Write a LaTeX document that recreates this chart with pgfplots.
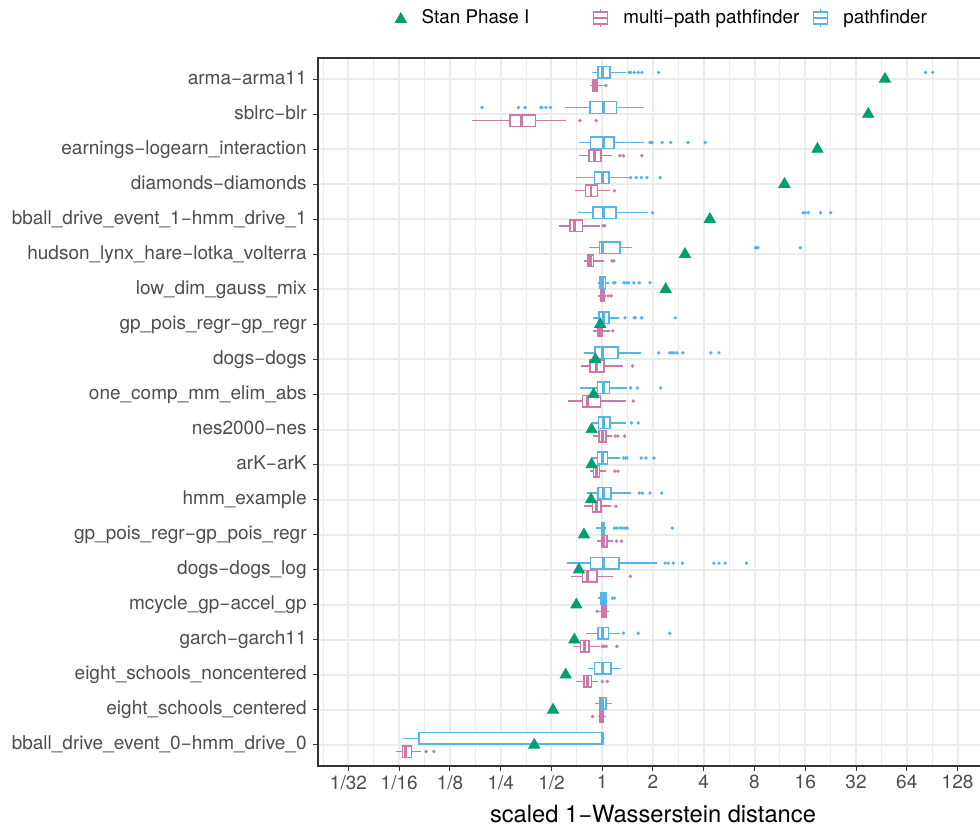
\documentclass[border=0pt]{standalone}
\usepackage{fontspec}
\setmainfont{TeX Gyre Heros}
\usepackage{pgfplots}
\pgfplotsset{compat=1.18}
\usepgfplotslibrary{statistics}
\definecolor{pfblue}{HTML}{56B4E9}
\definecolor{mpink}{HTML}{CC79A7}
\definecolor{sgreen}{HTML}{009E73}
\definecolor{grid92}{HTML}{EBEBEB}
\definecolor{g20}{HTML}{333333}
\definecolor{g30}{HTML}{4D4D4D}
\pgfplotsset{
  pf/.style={pfblue, fill=white, line width=0.75pt, boxplot/every median/.style={line width=1.4pt}},
  mp/.style={mpink, fill=white, line width=0.75pt, boxplot/every median/.style={line width=1.4pt}},
}
% draw position, lower whisker, lower quartile, median, upper quartile, upper whisker, style
\newcommand{\bxp}[7]{\addplot[#7, forget plot, boxplot prepared={draw position=#1, lower whisker=#2, lower quartile=#3, median=#4, upper quartile=#5, upper whisker=#6}] coordinates {};}
\begin{document}
\begin{tikzpicture}
\begin{axis}[
  at={(0pt,0pt)}, anchor=south west,
  scale only axis, width=335pt, height=354pt,
  xmin=-5.6, xmax=7.6, ymin=0.4, ymax=20.6,
  boxplot/draw direction=x,
  boxplot/box extend=0.33,
  boxplot/whisker extend=0,
  xtick={-5,-4,...,7},
  xticklabels={1/32,1/16,1/8,1/4,1/2,1,2,4,8,16,32,64,128},
  minor xtick={-5.5,-4.5,...,7.5},
  ytick={1,...,20},
  yticklabels={bball\_drive\_event\_0−hmm\_drive\_0, eight\_schools\_centered, eight\_schools\_noncentered, garch−garch11, mcycle\_gp−accel\_gp, dogs−dogs\_log, gp\_pois\_regr−gp\_pois\_regr, hmm\_example, arK−arK, nes2000−nes, one\_comp\_mm\_elim\_abs, dogs−dogs, gp\_pois\_regr−gp\_regr, low\_dim\_gauss\_mix, hudson\_lynx\_hare−lotka\_volterra, bball\_drive\_event\_1−hmm\_drive\_1, diamonds−diamonds, earnings−logearn\_interaction, sblrc−blr, arma−arma11},
  xmajorgrids, xminorgrids, ymajorgrids,
  major grid style={grid92, line width=1pt},
  minor grid style={grid92, line width=0.55pt},
  axis line style={g20, line width=1pt},
  tick align=outside, tick pos=left,
  major tick length=2.5pt, minor tick length=0pt,
  major tick style={g20, line width=0.5pt},
  xticklabel style={font=\fontsize{9.5}{11}\selectfont, text=g30, inner sep=0pt, yshift=-2pt},
  yticklabel style={font=\fontsize{9.5}{11}\selectfont, text=g30, inner sep=0pt, xshift=-3pt, text height=7pt, text depth=2pt},
  xlabel={scaled 1−Wasserstein distance},
  xlabel style={at={(axis description cs:0.5,0)}, anchor=base, yshift=-28pt, inner sep=0pt, font=\fontsize{11.85}{14}\selectfont, text=black},
  legend columns=3,
  legend cell align=left,
  legend style={at={(0.1142,1.0565)}, anchor=west, draw=none, fill=none, inner sep=0pt,
    font=\fontsize{9.4}{11}\selectfont, nodes={inner sep=0pt},
    /tikz/every odd column/.append style={column sep=7.5pt},
    /tikz/every even column/.append style={column sep=7pt}},
]
% ---------- pathfinder (blue), draw position k+0.1875 ----------
\bxp{20.1875}{-0.20}{-0.08}{0.00}{0.155}{0.46}{pf}
\bxp{19.1875}{-0.73}{-0.24}{0.02}{0.28}{0.82}{pf}
\bxp{18.1875}{-0.46}{-0.23}{0.02}{0.23}{0.83}{pf}
\bxp{17.1875}{-0.52}{-0.155}{0.00}{0.135}{0.52}{pf}
\bxp{16.1875}{-0.48}{-0.18}{0.02}{0.27}{0.90}{pf}
\bxp{15.1875}{-0.26}{-0.056}{0.00}{0.35}{0.59}{pf}
\bxp{14.1875}{-0.08}{-0.04}{0.00}{0.06}{0.13}{pf}
\bxp{13.1875}{-0.19}{-0.06}{0.02}{0.13}{0.33}{pf}
\bxp{12.1875}{-0.36}{-0.14}{0.00}{0.31}{0.77}{pf}
\bxp{11.1875}{-0.44}{-0.095}{0.02}{0.14}{0.49}{pf}
\bxp{10.1875}{-0.21}{-0.076}{0.02}{0.15}{0.46}{pf}
\bxp{9.1875}{-0.23}{-0.095}{0.00}{0.10}{0.35}{pf}
\bxp{8.1875}{-0.31}{-0.08}{0.02}{0.17}{0.56}{pf}
\bxp{7.1875}{-0.13}{-0.016}{0.01}{0.04}{0.08}{pf}
\bxp{6.1875}{-0.69}{-0.23}{0.02}{0.33}{1.08}{pf}
\bxp{5.1875}{-0.08}{-0.02}{0.02}{0.075}{0.09}{pf}
\bxp{4.1875}{-0.32}{-0.08}{0.00}{0.12}{0.35}{pf}
\bxp{3.1875}{-0.28}{-0.15}{0.00}{0.17}{0.365}{pf}
\bxp{2.1875}{-0.14}{-0.04}{0.01}{0.075}{0.20}{pf}
\bxp{1.1875}{-3.92}{-3.61}{0.00}{0.02}{0.06}{pf}
% ---------- multi-path pathfinder (pink), draw position k-0.1875 ----------
\bxp{19.8125}{-0.25}{-0.18}{-0.14}{-0.10}{0.05}{mp}
\bxp{18.8125}{-2.57}{-1.82}{-1.59}{-1.31}{-0.71}{mp}
\bxp{17.8125}{-0.46}{-0.26}{-0.15}{-0.02}{0.20}{mp}
\bxp{16.8125}{-0.54}{-0.325}{-0.22}{-0.095}{0.16}{mp}
\bxp{15.8125}{-0.85}{-0.64}{-0.54}{-0.39}{-0.05}{mp}
\bxp{14.8125}{-0.36}{-0.28}{-0.23}{-0.17}{0.03}{mp}
\bxp{13.8125}{-0.08}{-0.03}{0.00}{0.03}{0.08}{mp}
\bxp{12.8125}{-0.18}{-0.095}{-0.05}{0.00}{0.15}{mp}
\bxp{11.8125}{-0.41}{-0.24}{-0.11}{0.036}{0.40}{mp}
\bxp{10.8125}{-0.67}{-0.385}{-0.29}{-0.03}{0.47}{mp}
\bxp{9.8125}{-0.18}{-0.06}{0.00}{0.07}{0.20}{mp}
\bxp{8.8125}{-0.24}{-0.17}{-0.11}{-0.05}{0.07}{mp}
\bxp{7.8125}{-0.36}{-0.19}{-0.115}{-0.02}{0.18}{mp}
\bxp{6.8125}{-0.095}{0.00}{0.036}{0.095}{0.21}{mp}
\bxp{5.8125}{-0.61}{-0.39}{-0.29}{-0.10}{0.21}{mp}
\bxp{4.8125}{-0.06}{0.00}{0.02}{0.07}{0.135}{mp}
\bxp{3.8125}{-0.575}{-0.43}{-0.345}{-0.26}{-0.036}{mp}
\bxp{2.8125}{-0.52}{-0.36}{-0.29}{-0.21}{-0.076}{mp}
\bxp{1.8125}{-0.08}{-0.05}{-0.02}{0.02}{0.07}{mp}
\bxp{0.8125}{-4.06}{-3.94}{-3.88}{-3.76}{-3.57}{mp}
% ---------- outliers ----------
\addplot[only marks, mark=*, mark size=0.65pt, pfblue, forget plot] coordinates {
 (0.53,20.1875) (0.56,20.1875) (0.63,20.1875) (0.71,20.1875) (0.78,20.1875) (1.11,20.1875) (6.37,20.1875) (6.51,20.1875)
 (-2.37,19.1875) (-1.65,19.1875) (-1.52,19.1875) (-1.21,19.1875) (-1.19,19.1875) (-1.11,19.1875) (-1.02,19.1875)
 (0.94,18.1875) (0.98,18.1875) (1.18,18.1875) (1.35,18.1875) (1.69,18.1875) (2.03,18.1875)
 (0.56,17.1875) (0.67,17.1875) (0.77,17.1875) (0.88,17.1875) (1.14,17.1875)
 (0.99,16.1875) (3.96,16.1875) (4.00,16.1875) (4.06,16.1875) (4.30,16.1875) (4.50,16.1875)
 (3.02,15.1875) (3.05,15.1875) (3.07,15.1875) (3.90,15.1875)
 (0.22,14.1875) (0.25,14.1875) (0.43,14.1875) (0.48,14.1875) (0.52,14.1875) (0.62,14.1875) (0.73,14.1875) (0.94,14.1875)
 (0.45,13.1875) (0.63,13.1875) (0.65,13.1875) (0.77,13.1875) (0.78,13.1875) (1.44,13.1875)
 (1.11,12.1875) (1.33,12.1875) (1.37,12.1875) (1.41,12.1875) (1.47,12.1875) (1.59,12.1875) (2.14,12.1875) (2.30,12.1875)
 (0.56,11.1875) (0.69,11.1875) (1.15,11.1875)
 (0.575,10.1875) (0.71,10.1875)
 (0.42,9.1875) (0.46,9.1875) (0.49,9.1875) (0.77,9.1875) (0.86,9.1875) (1.02,9.1875)
 (0.73,8.1875) (0.79,8.1875) (0.94,8.1875) (1.17,8.1875)
 (0.24,7.1875) (0.29,7.1875) (0.35,7.1875) (0.40,7.1875) (0.45,7.1875) (0.49,7.1875) (1.38,7.1875)
 (1.24,6.1875) (1.30,6.1875) (1.40,6.1875) (1.58,6.1875) (2.20,6.1875) (2.30,6.1875) (2.42,6.1875) (2.84,6.1875)
 (0.20,5.1875) (0.24,5.1875)
 (0.42,4.1875) (0.71,4.1875) (1.33,4.1875)
};
\addplot[only marks, mark=*, mark size=0.65pt, mpink, forget plot] coordinates {
 (0.07,19.8125)
 (-0.44,18.8125) (-0.12,18.8125)
 (0.35,17.8125) (0.42,17.8125) (0.78,17.8125)
 (0.24,16.8125)
 (0.016,15.8125) (0.05,15.8125)
 (0.19,14.8125) (0.23,14.8125)
 (0.115,13.8125) (0.175,13.8125)
 (0.21,12.8125)
 (0.595,11.8125)
 (0.61,10.8125)
 (0.26,9.8125) (0.31,9.8125) (0.44,9.8125)
 (0.25,8.8125) (0.31,8.8125)
 (0.27,7.8125)
 (0.28,6.8125) (0.38,6.8125)
 (0.555,5.8125)
 (-0.10,4.8125)
 (0.003,3.8125) (0.036,3.8125) (0.08,3.8125) (0.29,3.8125)
 (0.0,2.8125) (0.10,2.8125)
 (-0.19,1.8125)
 (-3.47,0.8125) (-3.32,0.8125)
};
% ---------- Stan Phase I ----------
\addplot[only marks, mark=triangle*, mark size=3.2pt, sgreen, forget plot] coordinates {
 (5.57,20) (5.24,19) (4.24,18) (3.59,17) (2.12,16) (1.63,15) (1.25,14) (-0.04,13) (-0.135,12) (-0.17,11)
 (-0.21,10) (-0.21,9) (-0.22,8) (-0.36,7) (-0.46,6) (-0.51,5) (-0.55,4) (-0.72,3) (-0.97,2) (-1.34,1)
};
% ---------- legend ----------
\addlegendimage{legend image code/.code={\fill[sgreen] (0pt,-2.2pt) -- (5.5pt,-2.2pt) -- (2.75pt,2.6pt) -- cycle;}}
\addlegendentry{Stan Phase I\makebox[25pt]{}}
\addlegendimage{legend image code/.code={
  \draw[mpink, line width=0.55pt, fill=white] (0pt,-3pt) rectangle (7pt,3pt);
  \draw[mpink, line width=0.55pt] (0pt,0pt) -- (7pt,0pt) (3.5pt,3pt) -- (3.5pt,4.5pt) (3.5pt,-3pt) -- (3.5pt,-4.5pt);}}
\addlegendentry{multi−path pathfinder}
\addlegendimage{legend image code/.code={
  \draw[pfblue, line width=0.55pt, fill=white] (0pt,-3pt) rectangle (7pt,3pt);
  \draw[pfblue, line width=0.55pt] (0pt,0pt) -- (7pt,0pt) (3.5pt,3pt) -- (3.5pt,4.5pt) (3.5pt,-3pt) -- (3.5pt,-4.5pt);}}
\addlegendentry{pathfinder}
\end{axis}
\pgfresetboundingbox
\useasboundingbox (-159pt,-29.5pt) rectangle (331pt,383pt);
\end{tikzpicture}
\end{document}
